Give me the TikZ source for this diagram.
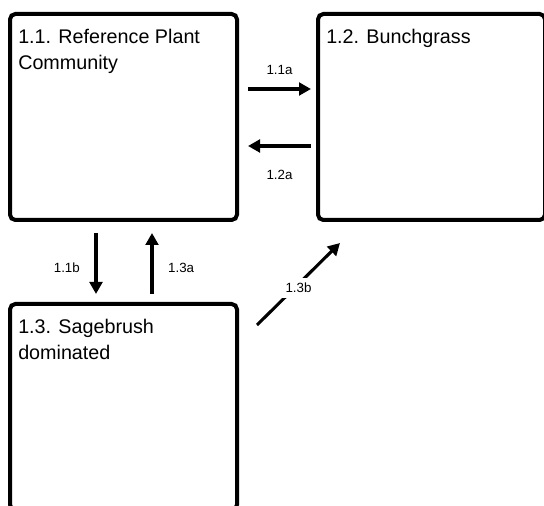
\documentclass[tikz,border=0pt]{standalone}
\usepackage{fontspec}
\setmainfont{Liberation Sans}
\usetikzlibrary{arrows.meta}

\begin{document}
\begin{tikzpicture}[x=0.75pt, y=-0.75pt,
	state box/.style={draw, line width=3pt, rounded corners=4pt, inner sep=0pt,
		minimum width=170.25pt, minimum height=154.5pt},
	state title/.style={anchor=north west, inner sep=0pt, align=left,
		font=\fontsize{14.8pt}{19.5pt}\selectfont},
	trans/.style={line width=2.3pt, -{Triangle[length=9pt,width=9.5pt]}},
	trans label/.style={font=\fontsize{10pt}{12pt}\selectfont, inner sep=1pt}]

	\useasboundingbox (0,0) rectangle (544,506);
	\clip (0,0) rectangle (544,506);

	\node[state box] (ref) at (123.5,117) {};
	\node[state box] (bunch) at (431.5,117) {};
	\node[state box] (sage) at (123.5,407) {};

	\node[state title] (reft) at ([shift={(10,17)}]ref.north west) {1.1. Reference Plant\\Community};
	\node[state title] (buncht) at ([shift={(10,17)}]bunch.north west) {1.2. Bunchgrass};
	\node[state title] (saget) at ([shift={(10,17)}]sage.north west) {1.3. Sagebrush\\dominated};

	\draw[trans] ([shift={(9,-28)}]ref.east) -- ([shift={(-5,-28)}]bunch.west)
		node[trans label, midway, above=9pt] {1.1a};
	\draw[trans] ([shift={(-5,29)}]bunch.west) -- ([shift={(9,29)}]ref.east)
		node[trans label, midway, below=16pt] {1.2a};
	\draw[trans] ([shift={(-27.5,11)}]ref.south) -- ([shift={(-27.5,-8)}]sage.north)
		node[trans label, midway, left=10pt, yshift=-3pt] {1.1b};
	\draw[trans] ([shift={(28.5,-8)}]sage.north) -- ([shift={(28.5,11)}]ref.south)
		node[trans label, midway, right=10pt, yshift=-3pt] {1.3a};
	\draw[trans] ([shift={(18,23)}]sage.north east) -- ([shift={(24,21)}]bunch.south west)
		node[trans label, midway, fill=white, inner sep=4pt, yshift=-3pt] {1.3b};

\end{tikzpicture}
\end{document}
